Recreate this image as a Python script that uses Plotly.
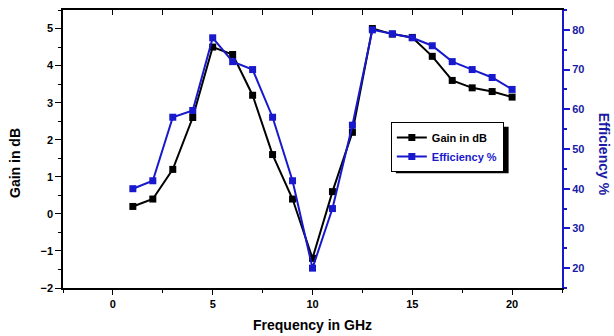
import plotly.graph_objects as go

freq = list(range(1, 21))
gain_db = [0.2, 0.4, 1.2, 2.6, 4.5, 4.3, 3.2, 1.6, 0.4, -1.2,
           0.6, 2.2, 5.0, 4.85, 4.76, 4.25, 3.6, 3.4, 3.3, 3.15]
efficiency = [40, 42, 58, 59.7, 78, 72, 70, 58, 42, 20,
              35, 56, 80, 79, 78, 76, 72, 70, 68, 65]

x_ticks = [0, 5, 10, 15, 20]
gain_ticks = [-2, -1, 0, 1, 2, 3, 4, 5]
eff_ticks = [20, 30, 40, 50, 60, 70, 80]

BLUE = "#1818cc"
BLUE_TXT = "#1a1aa6"
FONT = "Liberation Sans"

fig = go.Figure()
fig.add_trace(go.Scatter(
    x=freq, y=gain_db, name="Gain in dB", mode="lines+markers",
    line=dict(color="black", width=2),
    marker=dict(symbol="square", size=7, color="black"),
    xaxis="x", yaxis="y"))
fig.add_trace(go.Scatter(
    x=freq, y=efficiency, name="<span style='color:" + BLUE + "'>Efficiency %</span>",
    mode="lines+markers",
    line=dict(color=BLUE, width=2),
    marker=dict(symbol="square", size=7, color=BLUE),
    xaxis="x", yaxis="y2"))
# helper trace so the top (mirror) axis is drawn
fig.add_trace(go.Scatter(x=[None], y=[None], xaxis="x2", yaxis="y",
                         showlegend=False, hoverinfo="skip"))

tickfont = dict(family=FONT, size=11, color="black", weight="bold")

fig.update_layout(
    width=614, height=336,
    margin=dict(l=63, r=52, t=10, b=48),
    paper_bgcolor="white", plot_bgcolor="white",
    font=dict(family=FONT, size=12, color="black"),
    xaxis=dict(range=[-2.5, 22.5], tickvals=x_ticks, ticks="outside", ticklen=5,
               tickwidth=1.2, tickcolor="black",
               minor=dict(dtick=2.5, tick0=0, ticks="outside", ticklen=3, tickcolor="black"),
               showline=True, linecolor="black", linewidth=1.5,
               showgrid=False, zeroline=False, tickfont=tickfont),
    xaxis2=dict(range=[-2.5, 22.5], overlaying="x", side="top", anchor="y",
                dtick=2.5, tick0=0, ticks="inside", ticklen=5, tickwidth=1.2,
                tickcolor="black", showticklabels=False,
                showline=True, linecolor="black", linewidth=1.5,
                showgrid=False, zeroline=False),
    yaxis=dict(range=[-2, 5.5], tickvals=gain_ticks, ticks="outside", ticklen=6,
               tickwidth=1.2, tickcolor="black",
               minor=dict(dtick=0.5, tick0=0, ticks="outside", ticklen=3, tickcolor="black"),
               showline=True, linecolor="black", linewidth=1.5,
               showgrid=False, zeroline=False, tickfont=tickfont),
    yaxis2=dict(range=[15, 85], tickvals=eff_ticks, overlaying="y", side="right",
                anchor="x", ticks="outside", ticklen=6, tickwidth=1.5, tickcolor=BLUE,
                minor=dict(dtick=5, tick0=0, ticks="outside", ticklen=3, tickcolor=BLUE),
                showline=True, linecolor=BLUE, linewidth=2,
                showgrid=False, zeroline=False,
                tickfont=dict(family=FONT, size=11, color=BLUE_TXT, weight="bold")),
    legend=dict(x=0.657, y=0.597, xanchor="left", yanchor="top",
                bgcolor="white", bordercolor="black", borderwidth=1,
                font=dict(family=FONT, size=11, color="black", weight="bold"),
                itemwidth=30, tracegroupgap=0),
    showlegend=True,
)

# legend drop shadow
fig.add_shape(type="rect", xref="paper", yref="paper",
              x0=0.667, x1=0.893, y0=0.413, y1=0.58,
              fillcolor="black", line=dict(width=0), layer="above")

fig.add_annotation(text="<b>Frequency in GHz</b>", xref="paper", yref="paper",
                   x=0.5, y=-0.133, showarrow=False, yanchor="middle",
                   font=dict(family=FONT, size=14, color="black"))
fig.add_annotation(text="<b>Gain in dB</b>", xref="paper", yref="paper",
                   x=-0.096, y=0.45, showarrow=False, textangle=-90,
                   xanchor="center", yanchor="middle",
                   font=dict(family=FONT, size=14, color="black"))
fig.add_annotation(text="<b>Efficiency %</b>", xref="paper", yref="paper",
                   x=1.086, y=0.48, showarrow=False, textangle=90,
                   xanchor="center", yanchor="middle",
                   font=dict(family=FONT, size=14, color=BLUE_TXT))

fig.write_html("out.html")
